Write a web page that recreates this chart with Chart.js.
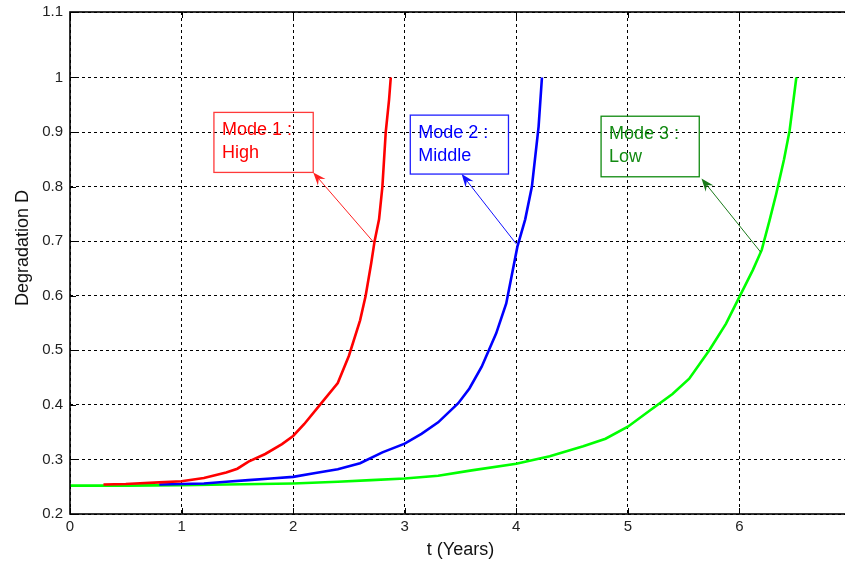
<!DOCTYPE html>
<html>
<head>
<meta charset="utf-8">
<script src="https://cdn.jsdelivr.net/npm/chart.js@4.4.1/dist/chart.umd.min.js"></script>
<style>
  html, body { margin: 0; padding: 0; background: #fff; overflow: hidden; }
  #chart { display: block; }
</style>
</head>
<body>
<canvas id="chart" width="860" height="567"></canvas>
<script>
  // ── Data ────────────────────────────────────────────────────────────

  var X_TICKS = [0, 1, 2, 3, 4, 5, 6, 7];
  var X_TICK_LABELS = ['0', '1', '2', '3', '4', '5', '6', ''];
  var Y_TICKS = [0.2, 0.3, 0.4, 0.5, 0.6, 0.7, 0.8, 0.9, 1.0, 1.1];
  var Y_TICK_LABELS = ['0.2', '0.3', '0.4', '0.5', '0.6', '0.7', '0.8', '0.9', '1', '1.1'];
  var Y_MAX = 1.12; // top of the frame, where the "1.1" label sits

  // Mode 1 : High (red)
  var HIGH_T = [0.3, 0.5, 0.8, 1.0, 1.2, 1.4, 1.5, 1.6, 1.75, 1.9, 2.0, 2.1, 2.24, 2.4, 2.5, 2.6, 2.65, 2.7, 2.73, 2.77, 2.8, 2.83, 2.86, 2.875];
  var HIGH_D = [0.254, 0.255, 0.258, 0.260, 0.266, 0.276, 0.283, 0.296, 0.310, 0.328, 0.343, 0.365, 0.400, 0.440, 0.490, 0.555, 0.600, 0.660, 0.700, 0.740, 0.800, 0.900, 0.960, 1.0];

  // Mode 2 : Middle (blue)
  var MIDDLE_T = [0.8, 1.0, 1.2, 1.4, 1.6, 1.8, 2.0, 2.2, 2.4, 2.6, 2.8, 3.0, 3.15, 3.3, 3.48, 3.58, 3.69, 3.82, 3.91, 4.01, 4.08, 4.14, 4.20, 4.23];
  var MIDDLE_D = [0.254, 0.255, 0.256, 0.259, 0.262, 0.265, 0.268, 0.275, 0.282, 0.293, 0.313, 0.329, 0.347, 0.368, 0.403, 0.430, 0.470, 0.531, 0.586, 0.690, 0.740, 0.800, 0.910, 1.0];

  // Mode 3 : Low (green)
  var LOW_T = [0, 0.5, 1.0, 1.4, 2.0, 2.4, 2.7, 3.0, 3.3, 3.6, 4.0, 4.3, 4.6, 4.8, 5.0, 5.2, 5.4, 5.55, 5.73, 5.88, 6.0, 6.12, 6.2, 6.27, 6.33, 6.4, 6.45, 6.51];
  var LOW_D = [0.252, 0.252, 0.253, 0.254, 0.256, 0.259, 0.262, 0.265, 0.270, 0.280, 0.292, 0.306, 0.324, 0.338, 0.360, 0.390, 0.420, 0.448, 0.500, 0.549, 0.598, 0.647, 0.684, 0.738, 0.787, 0.850, 0.903, 1.0];

  // Callouts (data units)
  var NOTE_LINES    = [['Mode 1 :', 'High'], ['Mode 2 :', 'Middle'], ['Mode 3 :', 'Low']];
  var NOTE_T_LEFT   = [1.29, 3.05, 4.76];
  var NOTE_T_RIGHT  = [2.18, 3.93, 5.64];
  var NOTE_D_TOP    = [0.936, 0.931, 0.929];
  var NOTE_D_BOTTOM = [0.826, 0.823, 0.818];
  var ARROW_FROM_T  = [2.73, 4.00, 6.19];
  var ARROW_FROM_D  = [0.696, 0.695, 0.680];
  var ARROW_TO_T    = [2.18, 3.51, 5.66];
  var ARROW_TO_D    = [0.826, 0.823, 0.815];

  // ── Styles ──────────────────────────────────────────────────────────

  var RED   = '#ff0000';
  var BLUE  = '#0000ff';
  var GREEN = '#00ff00';
  var NOTE_TEXT   = ['#ff0000', '#0000ff', '#128a12'];
  var NOTE_BORDER = ['#ff3a3a', '#2020ff', '#108a10'];
  var ARROW_COLOR = ['#ff2020', '#1010ff', '#1a7a1a'];
  var FONT = "'Liberation Sans', Arial, sans-serif";

  function toPoints(ts, ds) {
    return ts.map(function (t, i) { return { x: t, y: ds[i] }; });
  }

  // ── Plugins: MATLAB-style frame with inward ticks, and callouts ─────

  var framePlugin = {
    id: 'frame',
    afterDatasetsDraw: function (chart) {
      var a = chart.chartArea, ctx = chart.ctx;
      var xs = chart.scales.x, ys = chart.scales.y;
      ctx.save();
      ctx.strokeStyle = '#000';
      ctx.lineWidth = 1;
      xs.ticks.forEach(function (tk) {
        var px = Math.round(xs.getPixelForValue(tk.value)) + 0.5;
        ctx.beginPath();
        ctx.moveTo(px, a.bottom); ctx.lineTo(px, a.bottom - 6);
        ctx.moveTo(px, a.top); ctx.lineTo(px, a.top + 6);
        ctx.stroke();
      });
      ys.ticks.forEach(function (tk) {
        var py = Math.round(ys.getPixelForValue(tk.value)) + 0.5;
        ctx.beginPath();
        ctx.moveTo(a.left, py); ctx.lineTo(a.left + 6, py);
        ctx.stroke();
      });
      ctx.lineWidth = 1.6;
      ctx.strokeRect(a.left, a.top, a.right - a.left, a.bottom - a.top);
      ctx.restore();
    }
  };

  var calloutPlugin = {
    id: 'callouts',
    afterDatasetsDraw: function (chart) {
      var ctx = chart.ctx;
      var xs = chart.scales.x, ys = chart.scales.y;
      ctx.save();
      for (var i = 0; i < NOTE_LINES.length; i++) {
        var x0 = xs.getPixelForValue(NOTE_T_LEFT[i]);
        var x1 = xs.getPixelForValue(NOTE_T_RIGHT[i]);
        var y0 = ys.getPixelForValue(NOTE_D_TOP[i]);
        var y1 = ys.getPixelForValue(NOTE_D_BOTTOM[i]);

        ctx.strokeStyle = NOTE_BORDER[i];
        ctx.lineWidth = 1.3;
        ctx.strokeRect(x0, y0, x1 - x0, y1 - y0);

        ctx.fillStyle = NOTE_TEXT[i];
        ctx.font = '18px ' + FONT;
        ctx.textAlign = 'left';
        ctx.textBaseline = 'middle';
        ctx.fillText(NOTE_LINES[i][0], x0 + 8, y0 + 18);
        ctx.fillText(NOTE_LINES[i][1], x0 + 8, y0 + 41);

        // arrow from curve to box corner
        var fx = xs.getPixelForValue(ARROW_FROM_T[i]);
        var fy = ys.getPixelForValue(ARROW_FROM_D[i]);
        var tx = xs.getPixelForValue(ARROW_TO_T[i]);
        var ty = ys.getPixelForValue(ARROW_TO_D[i]);
        var ang = Math.atan2(ty - fy, tx - fx);
        var len = 13, half = 5;
        ctx.strokeStyle = ARROW_COLOR[i];
        ctx.fillStyle = ARROW_COLOR[i];
        ctx.lineWidth = 1;
        ctx.beginPath();
        ctx.moveTo(fx, fy);
        ctx.lineTo(tx - Math.cos(ang) * len * 0.6, ty - Math.sin(ang) * len * 0.6);
        ctx.stroke();
        var bx = tx - Math.cos(ang) * len, by = ty - Math.sin(ang) * len;
        ctx.beginPath();
        ctx.moveTo(tx, ty);
        ctx.lineTo(bx + Math.sin(ang) * half, by - Math.cos(ang) * half);
        ctx.lineTo(tx - Math.cos(ang) * len * 0.65, ty - Math.sin(ang) * len * 0.65);
        ctx.lineTo(bx - Math.sin(ang) * half, by + Math.cos(ang) * half);
        ctx.closePath();
        ctx.fill();
      }
      ctx.restore();
    }
  };

  // ── Chart ───────────────────────────────────────────────────────────

  function series(label, ts, ds, color) {
    return {
      label: label,
      data: toPoints(ts, ds),
      borderColor: color,
      backgroundColor: color,
      borderWidth: 2.6,
      pointRadius: 0,
      tension: 0,
      fill: false
    };
  }

  new Chart(document.getElementById('chart'), {
    type: 'line',
    data: {
      datasets: [
        series('Mode 1 : High', HIGH_T, HIGH_D, RED),
        series('Mode 2 : Middle', MIDDLE_T, MIDDLE_D, BLUE),
        series('Mode 3 : Low', LOW_T, LOW_D, GREEN)
      ]
    },
    options: {
      responsive: false,
      animation: false,
      layout: { padding: { top: 12, right: 9, left: 0, bottom: 0 } },
      plugins: {
        legend: { display: false },
        tooltip: { enabled: false }
      },
      scales: {
        x: {
          type: 'linear',
          min: 0,
          max: 7,
          afterBuildTicks: function (scale) {
            scale.ticks = X_TICKS.map(function (v) { return { value: v }; });
          },
          afterFit: function (scale) {
            scale.height = 53;
            scale.paddingLeft = 0;
            scale.paddingRight = 0;
          },
          ticks: {
            color: '#222',
            font: { family: FONT, size: 15 },
            padding: 4,
            maxRotation: 0,
            callback: function (v, i) { return X_TICK_LABELS[i]; }
          },
          grid: { color: '#000', lineWidth: 1, drawTicks: false },
          border: { display: false, dash: [3, 3] },
          title: {
            display: true,
            text: 't (Years)',
            color: '#111',
            font: { family: FONT, size: 18 },
            padding: { top: 0, bottom: 6 }
          }
        },
        y: {
          min: 0.2,
          max: Y_MAX,
          afterBuildTicks: function (scale) {
            scale.ticks = Y_TICKS.map(function (v, i) {
              return { value: i === Y_TICKS.length - 1 ? Y_MAX : v };
            });
          },
          afterFit: function (scale) {
            scale.width = 70;
            scale.paddingTop = 0;
            scale.paddingBottom = 0;
          },
          ticks: {
            color: '#222',
            font: { family: FONT, size: 15 },
            padding: 7,
            callback: function (v, i) { return Y_TICK_LABELS[i]; }
          },
          grid: { color: '#000', lineWidth: 1, drawTicks: false },
          border: { display: false, dash: [3, 3] },
          title: {
            display: true,
            // leading spaces lift the centred title, as in the reference
            text: '\u00a0\u00a0\u00a0\u00a0\u00a0\u00a0Degradation D',
            color: '#111',
            font: { family: FONT, size: 18 },
            padding: { top: 12, bottom: 0 }
          }
        }
      }
    },
    plugins: [framePlugin, calloutPlugin]
  });
</script>
</body>
</html>
